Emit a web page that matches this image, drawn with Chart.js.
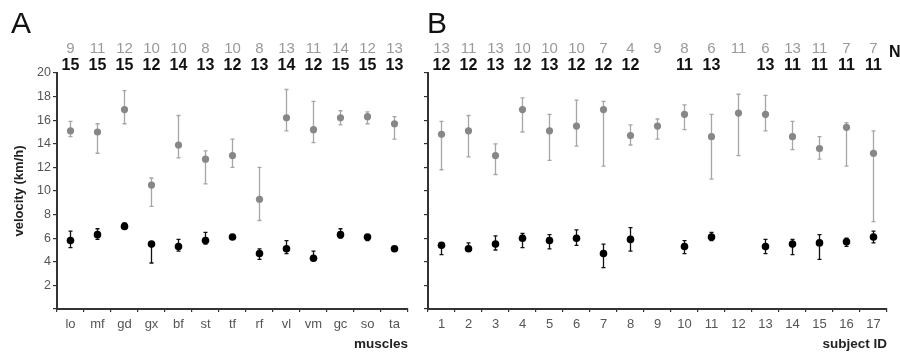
<!DOCTYPE html>
<html>
<head>
<meta charset="utf-8">
<script src="https://cdn.jsdelivr.net/npm/chart.js@4.4.1/dist/chart.umd.min.js"></script>
<style>
  body { margin: 0; background: #fff; }
  #wrap { position: relative; width: 900px; height: 352px; }
  #wrap canvas { position: absolute; left: 0; top: 0; }
</style>
</head>
<body>
<div id="wrap">
  <canvas id="chartA" width="900" height="352"></canvas>
  <canvas id="chartB" width="900" height="352"></canvas>
</div>
<script>
// Panel A: muscles
const muscles = ["lo", "mf", "gd", "gx", "bf", "st", "tf", "rf", "vl", "vm", "gc", "so", "ta"];
const nMuscleGray = [9, 11, 12, 10, 10, 8, 10, 8, 13, 11, 14, 12, 13];
const nMuscleBlack = [15, 15, 15, 12, 14, 13, 12, 13, 14, 12, 15, 15, 13];
const muscleGrayMean = [15.1, 15.0, 16.9, 10.5, 13.9, 12.7, 13.0, 9.3, 16.2, 15.2, 16.2, 16.3, 15.7];
const muscleGrayLow = [14.6, 13.2, 15.7, 8.7, 12.8, 10.6, 12.0, 7.5, 15.1, 14.1, 15.6, 15.7, 14.4];
const muscleGrayHigh = [15.9, 15.7, 18.5, 11.1, 16.4, 13.4, 14.4, 12.0, 18.6, 17.6, 16.8, 16.7, 16.3];
const muscleBlackMean = [5.8, 6.3, 7.0, 5.5, 5.3, 5.8, 6.1, 4.7, 5.1, 4.3, 6.3, 6.1, 5.1];
const muscleBlackLow = [5.2, 5.9, 6.8, 3.9, 4.9, 5.5, 6.0, 4.2, 4.7, 4.1, 6.0, 5.8, 5.0];
const muscleBlackHigh = [6.6, 6.8, 7.3, 5.6, 5.9, 6.5, 6.2, 5.1, 5.8, 4.9, 6.8, 6.3, 5.2];

// Panel B: subjects
const subjects = ["1", "2", "3", "4", "5", "6", "7", "8", "9", "10", "11", "12", "13", "14", "15", "16", "17"];
const nSubjectGray = [13, 11, 13, 10, 10, 10, 7, 4, 9, 8, 6, 11, 6, 13, 11, 7, 7];
const nSubjectBlack = [12, 12, 13, 12, 13, 12, 12, 12, null, 11, 13, null, 13, 11, 11, 11, 11];
const subjectGrayMean = [14.8, 15.1, 13.0, 16.9, 15.1, 15.5, 16.9, 14.7, 15.5, 16.5, 14.6, 16.6, 16.5, 14.6, 13.6, 15.4, 13.2];
const subjectGrayLow = [11.8, 12.9, 11.4, 15.0, 12.6, 13.8, 12.1, 13.9, 14.4, 15.2, 11.0, 13.0, 15.1, 13.5, 12.7, 12.1, 7.4];
const subjectGrayHigh = [15.9, 16.4, 14.0, 17.9, 16.5, 17.7, 17.6, 15.6, 16.1, 17.3, 16.5, 18.2, 18.1, 15.9, 14.6, 15.8, 15.1];
const subjectBlackMean = [5.4, 5.1, 5.5, 6.0, 5.8, 6.0, 4.7, 5.9, null, 5.3, 6.1, null, 5.3, 5.5, 5.6, 5.7, 6.1];
const subjectBlackLow = [4.6, 4.9, 5.0, 5.2, 5.1, 5.4, 3.5, 4.9, null, 4.7, 5.8, null, 4.7, 4.6, 4.2, 5.3, 5.6];
const subjectBlackHigh = [5.6, 5.6, 6.2, 6.4, 6.3, 6.7, 5.5, 6.9, null, 5.8, 6.5, null, 5.9, 5.9, 6.3, 6.0, 6.6];

const FONT = "'Liberation Sans', Arial, sans-serif";
const GRAY_DOT = "#878787";
const GRAY_BAR = "#a6a6a6";
const AXIS = "#333";

// error bars drawn from dataset.errLow / dataset.errHigh through the scales
const errorBarPlugin = {
  id: "errorBars",
  beforeDatasetsDraw(chart) {
    const ctx = chart.ctx;
    const xs = chart.scales.x, ys = chart.scales.y;
    chart.data.datasets.forEach((ds) => {
      ctx.save();
      ctx.strokeStyle = ds.errColor;
      ctx.lineWidth = 1.3;
      ds.data.forEach((v, i) => {
        if (v == null) return;
        const x = xs.getPixelForValue(i);
        const yl = ys.getPixelForValue(ds.errLow[i]);
        const yh = ys.getPixelForValue(ds.errHigh[i]);
        ctx.beginPath();
        ctx.moveTo(x, yl); ctx.lineTo(x, yh);
        ctx.moveTo(x - 2, yl); ctx.lineTo(x + 2, yl);
        ctx.moveTo(x - 2, yh); ctx.lineTo(x + 2, yh);
        ctx.stroke();
      });
      ctx.restore();
    });
  }
};

// panel letter and the N rows above the plot
const headerPlugin = {
  id: "header",
  afterDraw(chart, args, opts) {
    const ctx = chart.ctx;
    const xs = chart.scales.x;
    ctx.save();
    ctx.textBaseline = "middle";
    ctx.fillStyle = "#111";
    ctx.font = "30px " + FONT;
    ctx.textAlign = "left";
    ctx.fillText(opts.letter, opts.letterX, 25);

    ctx.textAlign = "center";
    ctx.font = "15px " + FONT;
    ctx.fillStyle = "#999";
    opts.grayN.forEach((n, i) => {
      if (n != null) ctx.fillText(String(n), xs.getPixelForValue(i), 49);
    });
    ctx.font = "bold 16px " + FONT;
    ctx.fillStyle = "#111";
    opts.blackN.forEach((n, i) => {
      if (n != null) ctx.fillText(String(n), xs.getPixelForValue(i), 66);
    });
    if (opts.showN) {
      ctx.textAlign = "left";
      ctx.font = "bold 16px " + FONT;
      ctx.fillText("N", 889, 53);
    }
    ctx.restore();
  }
};

function makeChart(id, cfg) {
  return new Chart(document.getElementById(id), {
    type: "line",
    data: {
      labels: cfg.labels,
      datasets: [
        {
          data: cfg.grayMean, errLow: cfg.grayLow, errHigh: cfg.grayHigh, errColor: GRAY_BAR,
          showLine: false, pointRadius: 3.6, pointBorderWidth: 0,
          pointBackgroundColor: GRAY_DOT,
        },
        {
          data: cfg.blackMean, errLow: cfg.blackLow, errHigh: cfg.blackHigh, errColor: "#111",
          showLine: false, pointRadius: 3.8, pointBorderWidth: 0,
          pointBackgroundColor: "#000",
        },
      ],
    },
    plugins: [errorBarPlugin, headerPlugin],
    options: {
      responsive: false,
      animation: false,
      layout: { padding: cfg.padding },
      plugins: {
        legend: { display: false },
        tooltip: { enabled: false },
        header: cfg.header,
      },
      scales: {
        x: {
          type: "category",
          offset: true,
          grid: { offset: true, drawOnChartArea: false, tickLength: 3, color: AXIS, lineWidth: 1.2 },
          border: { color: AXIS, width: 2 },
          ticks: { color: "#555", font: { family: FONT, size: 13 }, padding: 5, autoSkip: false, maxRotation: 0 },
          title: {
            display: true, text: cfg.xTitle, align: "end", color: "#222",
            font: { family: FONT, size: 13.5, weight: "bold" }, padding: 0,
          },
          afterFit: (scale) => { scale.height = 43; },
        },
        y: {
          min: 0, max: 20,
          grid: { drawOnChartArea: false, tickLength: 4, color: AXIS, lineWidth: 1.2 },
          border: { color: AXIS, width: 2 },
          ticks: {
            stepSize: 2, padding: 2, color: "#555", display: cfg.yLabels,
            font: { family: FONT, size: 12.5 },
            callback: (v) => (v === 0 ? "" : v),
          },
          title: {
            display: cfg.yLabels, text: "velocity (km/h)", color: "#222",
            font: { family: FONT, size: 13, weight: "bold" }, padding: { top: 12, bottom: 0 },
          },
          afterFit: (scale) => { scale.width = cfg.yWidth; },
        },
      },
    },
  });
}

makeChart("chartA", {
  labels: muscles,
  grayMean: muscleGrayMean, grayLow: muscleGrayLow, grayHigh: muscleGrayHigh,
  blackMean: muscleBlackMean, blackLow: muscleBlackLow, blackHigh: muscleBlackHigh,
  padding: { left: 0, right: 492, top: 73, bottom: 0 },
  yWidth: 57, yLabels: true, xTitle: "muscles",
  header: { letter: "A", letterX: 11, grayN: nMuscleGray, blackN: nMuscleBlack, showN: false },
});

makeChart("chartB", {
  labels: subjects,
  grayMean: subjectGrayMean, grayLow: subjectGrayLow, grayHigh: subjectGrayHigh,
  blackMean: subjectBlackMean, blackLow: subjectBlackLow, blackHigh: subjectBlackHigh,
  padding: { left: 410, right: 13, top: 73, bottom: 0 },
  yWidth: 18, yLabels: false, xTitle: "subject ID",
  header: { letter: "B", letterX: 427, grayN: nSubjectGray, blackN: nSubjectBlack, showN: true },
});
</script>
</body>
</html>
